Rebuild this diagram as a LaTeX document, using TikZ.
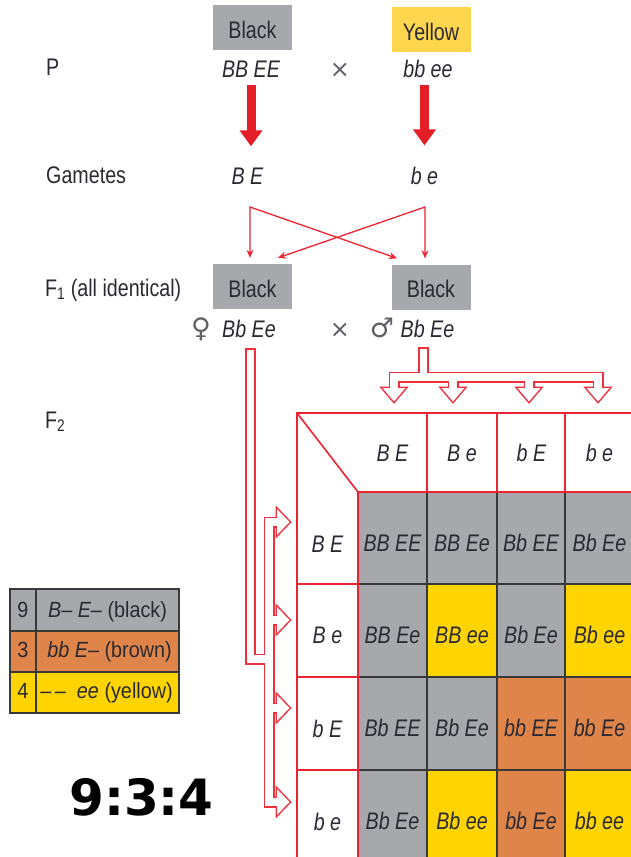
\documentclass[tikz,border=0pt]{standalone}
\usepackage{fontspec}
\setmainfont[FakeStretch=0.82]{Liberation Sans}
\newfontfamily\legendfont[FakeStretch=0.9]{Liberation Sans}
\newfontfamily\symbolfont{DejaVu Sans}
\usetikzlibrary{arrows.meta}

\definecolor{phengray}{HTML}{A7A8AB}
\definecolor{phenyellow}{HTML}{FDD64E}
\definecolor{cellyellow}{HTML}{FFD400}
\definecolor{cellorange}{HTML}{DF8549}
\definecolor{boldred}{HTML}{E41E26}
\definecolor{gridred}{HTML}{EC2330}
\definecolor{pipered}{HTML}{EE2F3C}
\definecolor{ink}{HTML}{2A2A33}
\definecolor{gridink}{HTML}{383838}

\tikzset{
  txt/.style={inner sep=0pt, anchor=base, text=ink, font=\fontsize{24}{28}\selectfont},
  gen/.style={inner sep=0pt, anchor=base, text=ink, font=\fontsize{24}{28}\selectfont\itshape},
  phenbox/.style={inner sep=0pt, minimum width=79pt, minimum height=45pt,
    text height=21pt, text depth=0pt, text=ink, font=\fontsize{24}{28}\selectfont},
  sym/.style={inner sep=0pt, anchor=base, text=ink!75, font=\fontsize{24}{28}\selectfont\symbolfont},
  bigarrow/.style={draw=boldred, line width=9pt, -{Triangle[length=16pt,width=22pt]}},
  crossarrow/.style={draw=gridred, line width=1.3pt, line join=miter,
    {Stealth[length=8pt,width=7pt]}-{Stealth[length=8pt,width=7pt]}},
  pipeout/.style={draw=pipered, line width=11pt, line join=miter},
  pipein/.style={draw=white, line width=7.8pt, line join=miter},
  redrule/.style={draw=gridred, line width=1.6pt},
  darkrule/.style={draw=gridink, line width=2pt},
  legtxt/.style={inner sep=0pt, anchor=base, text=ink, font=\fontsize{22}{26}\selectfont\legendfont},
}

\begin{document}
\begin{tikzpicture}[x=1pt, y=-1pt]
\useasboundingbox (0,0) rectangle (631,857);
\clip (0,0) rectangle (631,857);

% ---------- parents ----------
\node[txt, anchor=base west] (pLabel) at (46,75) {P};
\node[phenbox, fill=phengray] (pBlack) at (252.5,27.5) {Black};
\node[phenbox, fill=phenyellow] (pYellow) at (431,29.5) {Yellow};
\node[gen] (pBB) at (251,77) {BB EE};
\node[sym] (pCross) at (340,77) {×};
\node[gen] (pbb) at (428,77) {bb ee};

% ---------- gametes ----------
\node[txt, anchor=base west] (gLabel) at (46,183) {Gametes};
\node[gen] (gBE) at (247.5,184) {B E};
\node[gen] (gbe) at (424.5,184) {b e};

\draw[bigarrow, shorten <=8pt, shorten >=21pt] (pBB.south) -- (pBB.south |- gBE.north);
\draw[bigarrow, shorten <=8pt, shorten >=21pt] (gbe.north |- pbb.south) -- (gbe.north);

% ---------- F1 ----------
\node[txt, anchor=base west] (f1Label) at (45,296) {F\textsubscript{1} (all identical)};
\node[phenbox, fill=phengray] (f1L) at (252.5,286.5) {Black};
\node[phenbox, fill=phengray] (f1R) at (431,287) {Black};
\node[sym, font=\fontsize{27}{30}\selectfont\symbolfont] (fem) at (201,337) {♀};
\node[gen] (femG) at (249,337) {Bb Ee};
\node[sym] (f1Cross) at (340,337) {×};
\node[sym, font=\fontsize{27}{30}\selectfont\symbolfont] (male) at (382,337) {♂};
\node[gen] (maleG) at (427.5,337) {Bb Ee};

% crossing gamete connectors
\coordinate (apexL) at (250,207);
\coordinate (apexR) at (425,207);
\draw[crossarrow] ([xshift=-2.5pt,yshift=6pt]f1L.north) -- (apexL) -- ([xshift=-34pt,yshift=6pt]f1R.north);
\draw[crossarrow] ([xshift=25.5pt,yshift=6pt]f1L.north) -- (apexR) -- ([xshift=-6pt,yshift=6pt]f1R.north);

% ---------- F2 ----------
\node[txt, anchor=base west] (f2Label) at (45,428) {F\textsubscript{2}};

% ---------- hollow distribution pipes ----------
\coordinate (femTop) at (250.5,348);
\coordinate (maleTop) at (423.5,347);
\begin{scope}[pipeout]
  \draw (femTop) -- (250.5,659) -- (269,659);
  \draw (277,522) -- (269,522) -- (269,802) -- (277,802);
  \draw (269,620) -- (277,620);
  \draw (269,708) -- (277,708);
  \draw (maleTop) -- (423.5,377);
  \draw (394,388) -- (394,377) -- (598,377) -- (598,388);
  \draw (453,377) -- (453,388);
  \draw (529,377) -- (529,388);
\end{scope}
\foreach \y in {522,620,708,802}
  \filldraw[pipered, line width=3pt, line join=miter] (277,\y-13) -- (289.5,\y) -- (277,\y+13) -- cycle;
\foreach \x in {394,453,529,598}
  \filldraw[pipered, line width=3pt, line join=miter] (\x-11.5,388) -- (\x,401.5) -- (\x+11.5,388) -- cycle;
\begin{scope}[pipein]
  \draw[shorten <=1.6pt] (femTop) -- (250.5,659) -- (269,659);
  \draw (277,522) -- (269,522) -- (269,802) -- (277,802);
  \draw (269,620) -- (277,620);
  \draw (269,708) -- (277,708);
  \draw[shorten <=1.6pt] (maleTop) -- (423.5,377);
  \draw (394,388) -- (394,377) -- (598,377) -- (598,388);
  \draw (453,377) -- (453,388);
  \draw (529,377) -- (529,388);
\end{scope}
\foreach \y in {522,620,708,802}
  \fill[white] (277,\y-13) -- (289.5,\y) -- (277,\y+13) -- cycle;
\foreach \x in {394,453,529,598}
  \fill[white] (\x-11.5,388) -- (\x,401.5) -- (\x+11.5,388) -- cycle;

% ---------- Punnett square ----------
\foreach \c/\r/\col/\txt in {
  1/1/phengray/BB EE, 2/1/phengray/BB Ee, 3/1/phengray/Bb EE, 4/1/phengray/Bb Ee,
  1/2/phengray/BB Ee, 2/2/cellyellow/BB ee, 3/2/phengray/Bb Ee, 4/2/cellyellow/Bb ee,
  1/3/phengray/Bb EE, 2/3/phengray/Bb Ee, 3/3/cellorange/bb EE, 4/3/cellorange/bb Ee,
  1/4/phengray/Bb Ee, 2/4/cellyellow/Bb ee, 3/4/cellorange/bb Ee, 4/4/cellyellow/bb ee}{
  \pgfmathsetmacro\xa{{358,427,497,565,634}[\c-1]}
  \pgfmathsetmacro\xb{{358,427,497,565,634}[\c]}
  \pgfmathsetmacro\ya{{492,584,677,770,863}[\r-1]}
  \pgfmathsetmacro\yb{{492,584,677,770,863}[\r]}
  \fill[\col] (\xa,\ya) rectangle (\xb,\yb);
  \node[gen] (c\r\c) at ({(\xa+\xb)/2},{(\ya+\yb)/2+13}) {\txt};
}
% rules between the offspring cells
\foreach \x in {427,497,565} \draw[darkrule] (\x,492) -- (\x,863);
\foreach \y in {584,677,770} \draw[darkrule] (358,\y) -- (640,\y);
% frame, header and row-label rules
\draw[redrule] (640,413) -- (297,413) -- (297,863);
\draw[redrule] (297,413) -- (358,492);
\draw[redrule] (358,863) -- (358,492) -- (640,492);
\foreach \x in {427,497,565} \draw[redrule] (\x,413) -- (\x,492);
\foreach \y in {584,677,770} \draw[redrule] (297,\y) -- (358,\y);

% gamete headings
\node[gen] (h1) at (392.5,461) {B E};
\node[gen] (h2) at (462,461) {B e};
\node[gen] (h3) at (531.5,461) {b E};
\node[gen] (h4) at (599.5,461) {b e};
\node[gen] (r1) at (327.5,552) {B E};
\node[gen] (r2) at (327.5,643) {B e};
\node[gen] (r3) at (327.5,737) {b E};
\node[gen] (r4) at (327.5,830) {b e};

% ---------- phenotype key ----------
\fill[phengray] (10,589) rectangle (179,631);
\fill[cellorange] (10,631) rectangle (179,672);
\fill[cellyellow] (10,672) rectangle (179,713);
\draw[gridink, line width=1.5pt] (10,589) rectangle (179,713);
\draw[gridink, line width=1.5pt] (10,631) -- (179,631) (10,672) -- (179,672) (36,589) -- (36,713);
\node[legtxt] (k1n) at (23,617) {9};
\node[legtxt] (k2n) at (23,657) {3};
\node[legtxt] (k3n) at (23,698) {4};
\node[legtxt] (k1t) at (107.5,617) {\itshape B– E– \upshape(black)};
\node[legtxt] (k2t) at (109.5,657) {\itshape bb E– \upshape(brown)};
\node[legtxt] (k3t) at (106.5,698) {\itshape –\,–\enspace ee \upshape(yellow)};

% ---------- ratio ----------
\node[inner sep=0pt, anchor=base, text=black, font=\fontsize{50}{56}\selectfont\symbolfont\bfseries] (ratio) at (141.5,815) {9:3:4};
\end{tikzpicture}
\end{document}
